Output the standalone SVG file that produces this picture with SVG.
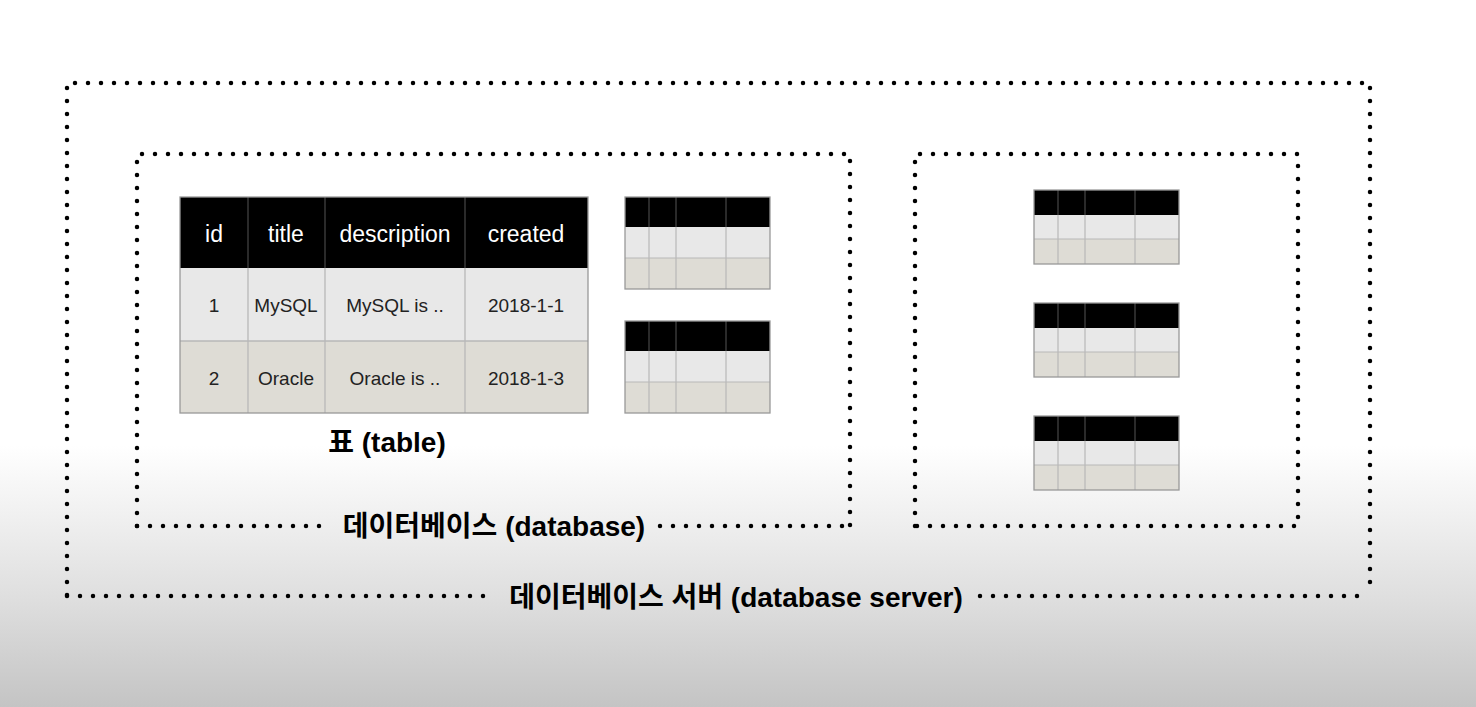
<svg xmlns="http://www.w3.org/2000/svg" width="1476" height="707" viewBox="0 0 1476 707">
<defs>
<linearGradient id="bg" x1="0" y1="0" x2="0" y2="707" gradientUnits="userSpaceOnUse">
<stop offset="0" stop-color="#ffffff"/>
<stop offset="0.63" stop-color="#ffffff"/>
<stop offset="0.85" stop-color="#dedede"/>
<stop offset="1" stop-color="#c4c4c4"/>
</linearGradient>
<g id="mini">
<rect x="0" y="0" width="145" height="30" fill="#000"/>
<rect x="0" y="30" width="145" height="31" fill="#e8e8e8"/>
<rect x="0" y="61" width="145" height="31" fill="#dedcd5"/>
<path d="M0 61H145M24 30V92M51 30V92M101 30V92" stroke="#b8b8b8" stroke-width="1.2" fill="none"/>
<path d="M24 0V30M51 0V30M101 0V30" stroke="#555" stroke-width="1" fill="none"/>
<rect x="0" y="0" width="145" height="92" fill="none" stroke="#999" stroke-width="1.3"/>
</g>
<g id="mini2">
<rect x="0" y="0" width="145" height="25" fill="#000"/>
<rect x="0" y="25" width="145" height="24" fill="#e8e8e8"/>
<rect x="0" y="49" width="145" height="25" fill="#dedcd5"/>
<path d="M0 49H145M24 25V74M51 25V74M101 25V74" stroke="#b8b8b8" stroke-width="1.2" fill="none"/>
<path d="M24 0V25M51 0V25M101 0V25" stroke="#555" stroke-width="1" fill="none"/>
<rect x="0" y="0" width="145" height="74" fill="none" stroke="#999" stroke-width="1.3"/>
</g>
</defs>
<style>
.dot{fill:none;stroke:#000;stroke-width:4.5;stroke-linecap:round;stroke-dasharray:0 13}
.hd{font-family:"Liberation Sans","Noto Sans CJK KR",sans-serif;font-size:23px;fill:#fff;text-anchor:middle}
.cell{font-family:"Liberation Sans","Noto Sans CJK KR",sans-serif;font-size:19px;fill:#222;text-anchor:middle}
.lbl{font-family:"Liberation Sans","Noto Sans CJK KR",sans-serif;font-size:28px;font-weight:bold;fill:#000;text-anchor:middle}
</style>
<rect width="1476" height="707" fill="url(#bg)"/>

<g id="connectors">
<path class="dot" d="M67 595V83H1370V595"/>
<path class="dot" d="M67 596H490"/>
<path class="dot" d="M980 596H1370"/>
<path class="dot" d="M137 526V154H850V526"/>
<path class="dot" d="M137 526H326"/>
<path class="dot" d="M660 526H850"/>
<path class="dot" d="M915 526V154H1298V526H915"/>
</g>

<g id="table-main">
<rect x="180" y="197" width="408" height="71" fill="#000"/>
<rect x="180" y="268" width="408" height="73" fill="#e8e8e8"/>
<rect x="180" y="341" width="408" height="72" fill="#dedcd5"/>
<path d="M180 341H588M248 268V413M325 268V413M465 268V413" stroke="#b8b8b8" stroke-width="1.3" fill="none"/>
<path d="M248 197V268M325 197V268M465 197V268" stroke="#555" stroke-width="1" fill="none"/>
<rect x="180" y="197" width="408" height="216" fill="none" stroke="#999" stroke-width="1.3"/>
<text class="hd" x="214" y="242">id</text>
<text class="hd" x="286" y="242">title</text>
<text class="hd" x="395" y="242">description</text>
<text class="hd" x="526" y="242">created</text>
<text class="cell" x="214" y="312">1</text>
<text class="cell" x="286" y="312">MySQL</text>
<text class="cell" x="395" y="312">MySQL is ..</text>
<text class="cell" x="526" y="312">2018-1-1</text>
<text class="cell" x="214" y="385">2</text>
<text class="cell" x="286" y="385">Oracle</text>
<text class="cell" x="395" y="385">Oracle is ..</text>
<text class="cell" x="526" y="385">2018-1-3</text>
</g>
<g id="label-table"><text class="lbl" x="387" y="452">표 (table)</text></g>

<g id="table-2"><use href="#mini" x="625" y="197"/></g>
<g id="table-3"><use href="#mini" x="625" y="321"/></g>

<g id="table-4"><use href="#mini2" x="1034" y="190"/></g>
<g id="table-5"><use href="#mini2" x="1034" y="303"/></g>
<g id="table-6"><use href="#mini2" x="1034" y="416"/></g>

<g id="label-database"><text class="lbl" x="494" y="536">데이터베이스 (database)</text></g>
<g id="label-server"><text class="lbl" x="736" y="607">데이터베이스 서버 (database server)</text></g>
</svg>
